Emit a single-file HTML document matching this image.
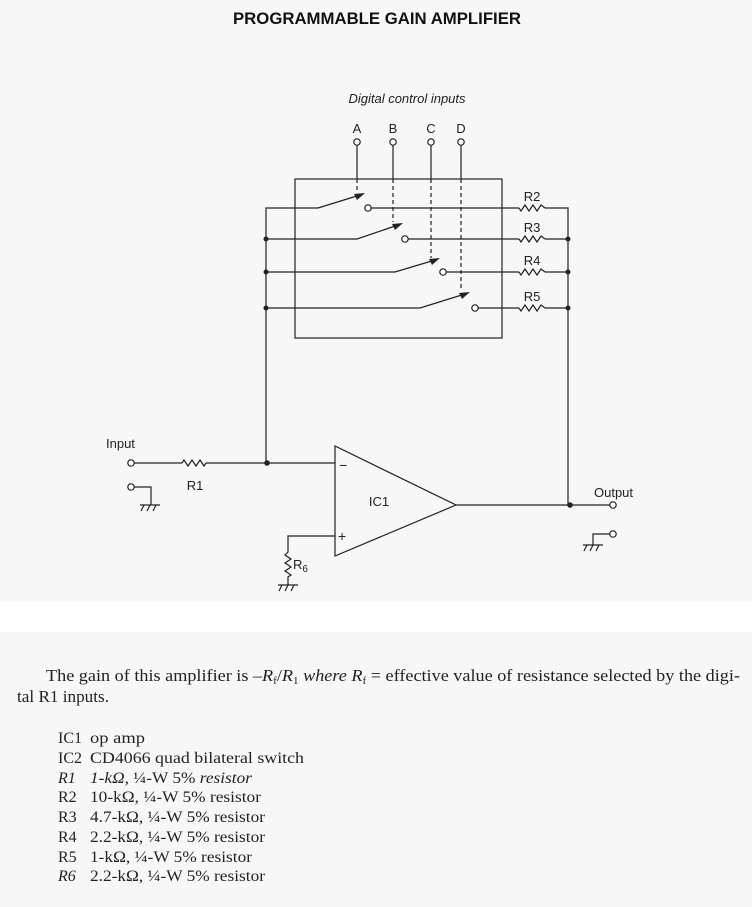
<!DOCTYPE html>
<html><head><meta charset="utf-8"><style>
html,body{margin:0;padding:0;background:#f7f7f7;}
svg{display:block;}
.s{font-family:"Liberation Sans",sans-serif;}
.f{font-family:"Liberation Serif",serif;fill:#222;}
</style></head><body>
<svg width="752" height="907" viewBox="0 0 752 907" xmlns="http://www.w3.org/2000/svg">
<rect x="0" y="0" width="752" height="907" fill="#f7f7f7"/>
<rect x="0" y="601" width="752" height="31" fill="#ffffff"/>
<text x="233" y="24" class="s" font-weight="bold" font-size="17" textLength="288" lengthAdjust="spacingAndGlyphs" fill="#111">PROGRAMMABLE GAIN AMPLIFIER</text>

<g stroke="#222" stroke-width="1.2" fill="none">
<rect x="295" y="179" width="207" height="159"/>
<line x1="357" y1="145" x2="357" y2="179"/><line x1="357" y1="179" x2="357" y2="193" stroke-dasharray="4,3"/>
<line x1="393" y1="145" x2="393" y2="179"/><line x1="393" y1="179" x2="393" y2="222" stroke-dasharray="4,3"/>
<line x1="431" y1="145" x2="431" y2="179"/><line x1="431" y1="179" x2="431" y2="258" stroke-dasharray="4,3"/>
<line x1="461" y1="145" x2="461" y2="179"/><line x1="461" y1="179" x2="461" y2="290" stroke-dasharray="4,3"/>
<polyline points="318,208 266,208 266,463 335,463"/>
<polyline points="545,208 568,208 568,505"/>
<polyline points="266,239 357,239 398,225"/>
<polyline points="266,272 395,272 435,260"/>
<polyline points="266,308 420,308 465,294"/>
<line x1="318" y1="208" x2="360" y2="195"/>
<line x1="371" y1="208" x2="519" y2="208"/>
<line x1="408" y1="239" x2="519" y2="239"/>
<line x1="446" y1="272" x2="519" y2="272"/>
<line x1="478" y1="308" x2="519" y2="308"/>
<line x1="545" y1="239" x2="568" y2="239"/>
<line x1="545" y1="272" x2="568" y2="272"/>
<line x1="545" y1="308" x2="568" y2="308"/>
<polyline points="519,208 521,211 525,205 529,211 533,205 537,211 541,205 545,208"/>
<polyline points="519,239 521,242 525,236 529,242 533,236 537,242 541,236 545,239"/>
<polyline points="519,272 521,275 525,269 529,275 533,269 537,275 541,269 545,272"/>
<polyline points="519,308 521,311 525,305 529,311 533,305 537,311 541,305 545,308"/>
<line x1="134" y1="463" x2="182" y2="463"/>
<polyline points="182,463 184,460 188,466 192,460 196,466 200,460 204,466 206,463"/>
<line x1="206" y1="463" x2="266" y2="463"/>
<polyline points="134,487 151,487 151,505"/>
<line x1="140" y1="505" x2="160" y2="505"/>
<line x1="144" y1="505" x2="141" y2="511"/><line x1="150" y1="505" x2="147" y2="511"/><line x1="156" y1="505" x2="153" y2="511"/>
<polygon points="335,446 335,556 456,505"/>
<line x1="456" y1="505" x2="610" y2="505"/>
<polyline points="335,536 288,536 288,552 285,555 291,559 285,563 291,567 285,571 291,575 288,577 288,585"/>
<line x1="278" y1="585" x2="298" y2="585"/>
<line x1="282" y1="585" x2="279" y2="591"/><line x1="288" y1="585" x2="285" y2="591"/><line x1="294" y1="585" x2="291" y2="591"/>
<polyline points="610,534 593,534 593,545"/>
<line x1="583" y1="545" x2="603" y2="545"/>
<line x1="587" y1="545" x2="584" y2="551"/><line x1="593" y1="545" x2="590" y2="551"/><line x1="599" y1="545" x2="596" y2="551"/>
</g>
<g fill="#222">
<polygon points="365,193 354,194 357,200"/>
<polygon points="403,223 392,224 395,230"/>
<polygon points="440,258 429,259 432,265"/>
<polygon points="470,292 459,293 462,299"/>
<circle cx="266" cy="239" r="2.5"/><circle cx="266" cy="272" r="2.5"/><circle cx="266" cy="308" r="2.5"/>
<circle cx="568" cy="239" r="2.5"/><circle cx="568" cy="272" r="2.5"/><circle cx="568" cy="308" r="2.5"/>
<circle cx="267" cy="463" r="2.8"/><circle cx="570" cy="505" r="2.8"/>
</g>
<g fill="#fff" stroke="#222" stroke-width="1.2">
<circle cx="357" cy="142" r="3.2"/><circle cx="393" cy="142" r="3.2"/><circle cx="431" cy="142" r="3.2"/><circle cx="461" cy="142" r="3.2"/>
<circle cx="368" cy="208" r="3.2"/><circle cx="405" cy="239" r="3.2"/><circle cx="443" cy="272" r="3.2"/><circle cx="475" cy="308" r="3.2"/>
<circle cx="131" cy="463" r="3.2"/><circle cx="131" cy="487" r="3.2"/>
<circle cx="613" cy="505" r="3.2"/><circle cx="613" cy="534" r="3.2"/>
</g>
<g class="s" font-size="13" fill="#222">
<text x="407" y="103" text-anchor="middle" font-style="italic">Digital control inputs</text>
<text x="357" y="133" text-anchor="middle">A</text><text x="393" y="133" text-anchor="middle">B</text>
<text x="431" y="133" text-anchor="middle">C</text><text x="461" y="133" text-anchor="middle">D</text>
<text x="532" y="201" text-anchor="middle">R2</text><text x="532" y="232" text-anchor="middle">R3</text>
<text x="532" y="265" text-anchor="middle">R4</text><text x="532" y="301" text-anchor="middle">R5</text>
<text x="106" y="448">Input</text>
<text x="195" y="490" text-anchor="middle">R1</text>
<text x="379" y="506" text-anchor="middle">IC1</text>
<text x="594" y="497">Output</text>
<text x="293" y="569">R<tspan font-size="10" dy="3">6</tspan></text>
<text x="339" y="470" font-size="14">−</text>
<text x="338" y="541" font-size="14">+</text>
</g>
<g class="f" font-size="16.5">
<text x="46" y="681" textLength="694" lengthAdjust="spacingAndGlyphs">The gain of this amplifier is –<tspan font-style="italic">R</tspan><tspan font-size="10" dy="3">f</tspan><tspan dy="-3">/</tspan><tspan font-style="italic">R</tspan><tspan font-size="10" dy="3">1</tspan><tspan dy="-3" font-style="italic"> where </tspan><tspan font-style="italic">R</tspan><tspan font-size="10" dy="3">f</tspan><tspan dy="-3"> = effective value of resistance selected by the digi-</tspan></text>
<text x="17" y="702" textLength="92" lengthAdjust="spacingAndGlyphs">tal R1 inputs.</text>
</g>
<g class="f" font-size="16">
<text x="58" y="743">IC1</text><text x="90" y="743" textLength="55" lengthAdjust="spacingAndGlyphs">op amp</text>
<text x="58" y="763">IC2</text><text x="90" y="763" textLength="214" lengthAdjust="spacingAndGlyphs">CD4066 quad bilateral switch</text>
<text x="58" y="783" font-style="italic">R1</text><text x="90" y="783" textLength="162" lengthAdjust="spacingAndGlyphs"><tspan font-style="italic">1-kΩ, </tspan>¼-W 5% <tspan font-style="italic">resistor</tspan></text>
<text x="58" y="802">R2</text><text x="90" y="802" textLength="171" lengthAdjust="spacingAndGlyphs">10-kΩ, ¼-W 5% resistor</text>
<text x="58" y="822">R3</text><text x="90" y="822" textLength="175" lengthAdjust="spacingAndGlyphs">4.7-kΩ, ¼-W 5% resistor</text>
<text x="58" y="842">R4</text><text x="90" y="842" textLength="175" lengthAdjust="spacingAndGlyphs">2.2-kΩ, ¼-W 5% resistor</text>
<text x="58" y="862">R5</text><text x="90" y="862" textLength="162" lengthAdjust="spacingAndGlyphs">1-kΩ, ¼-W 5% resistor</text>
<text x="58" y="881" font-style="italic">R6</text><text x="90" y="881" textLength="175" lengthAdjust="spacingAndGlyphs">2.2-kΩ, ¼-W 5% resistor</text>
</g>
</svg>
</body></html>
